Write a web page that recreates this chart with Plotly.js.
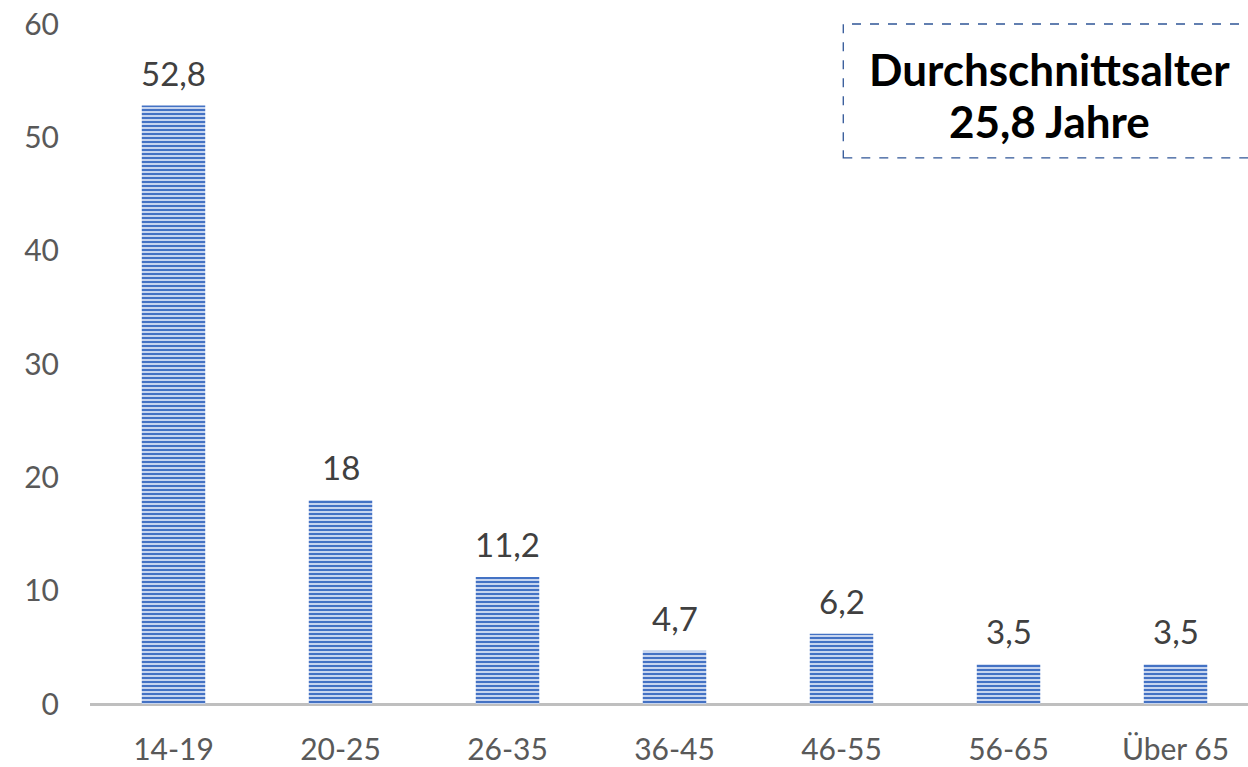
<!DOCTYPE html>
<html>
<head>
<meta charset="utf-8">
<script src="https://cdn.plot.ly/plotly-3.0.1.min.js"></script>
<style>html,body{margin:0;padding:0;background:#fff;}#chart{width:1248px;height:767px;}</style>
</head>
<body>
<div id="chart"></div>
<script>
const categories = ["14-19", "20-25", "26-35", "36-45", "46-55", "56-65", "Über 65"];
const values = [52.8, 18, 11.2, 4.7, 6.2, 3.5, 3.5];
const yTicks = [0, 10, 20, 30, 40, 50, 60];
const boxLine1 = "Durchschnittsalter";
const boxLine2 = "25,8 Jahre";

const fmt = v => String(v).replace('.', ',');

const trace = {
  type: 'bar',
  x: categories,
  y: values,
  width: 0.38,
  marker: {
    color: '#4472C4',
    line: {width: 0},
    pattern: {shape: '-', size: 4, solidity: 0.55, fgcolor: '#4472C4', bgcolor: '#D5E0F4'}
  },
  hoverinfo: 'skip'
};

const labelAnnotations = categories.map((c, i) => ({
  x: c, y: values[i], xref: 'x', yref: 'y',
  text: fmt(values[i]), showarrow: false,
  yanchor: 'bottom', yshift: 11,
  font: {family: 'Lato, sans-serif', size: 33, color: '#404040'}
}));

const layout = {
  width: 1248, height: 767,
  margin: {l: 90, r: 0, t: 24, b: 63},
  paper_bgcolor: '#fff', plot_bgcolor: '#fff',
  showlegend: false,
  separators: ',.',
  xaxis: {
    type: 'category',
    range: [-0.5, 6.434],
    showgrid: false, zeroline: false,
    showline: false,
    ticks: '',
    tickfont: {family: 'Lato, sans-serif', size: 30, color: '#595959'},
    ticklabelstandoff: 25
  },
  yaxis: {
    range: [0, 60],
    tickvals: yTicks,
    showgrid: false,
    zeroline: true, zerolinecolor: '#BFBFBF', zerolinewidth: 3,
    showline: false, ticks: '',
    tickfont: {family: 'Lato, sans-serif', size: 30, color: '#595959'},
    ticklabelstandoff: 30
  },
  shapes: [{
    type: 'rect', xref: 'paper', yref: 'paper',
    x0: 0.6505, x1: 1.02, y0: 0.803, y1: 1.0,
    line: {color: '#2F5597', width: 1.3, dash: 'dash'},
    fillcolor: 'rgba(0,0,0,0)'
  }],
  annotations: labelAnnotations.concat([
    {xref: 'paper', yref: 'paper', x: 0.829, y: 0.934, text: '<b>' + boxLine1 + '</b>', showarrow: false,
     xanchor: 'center', yanchor: 'middle', font: {family: 'Lato, sans-serif', size: 44, color: '#000'}},
    {xref: 'paper', yref: 'paper', x: 0.829, y: 0.858, text: '<b>' + boxLine2 + '</b>', showarrow: false,
     xanchor: 'center', yanchor: 'middle', font: {family: 'Lato, sans-serif', size: 44, color: '#000'}}
  ])
};

Plotly.newPlot('chart', [trace], layout, {displayModeBar: false, staticPlot: true});
</script>
</body>
</html>
